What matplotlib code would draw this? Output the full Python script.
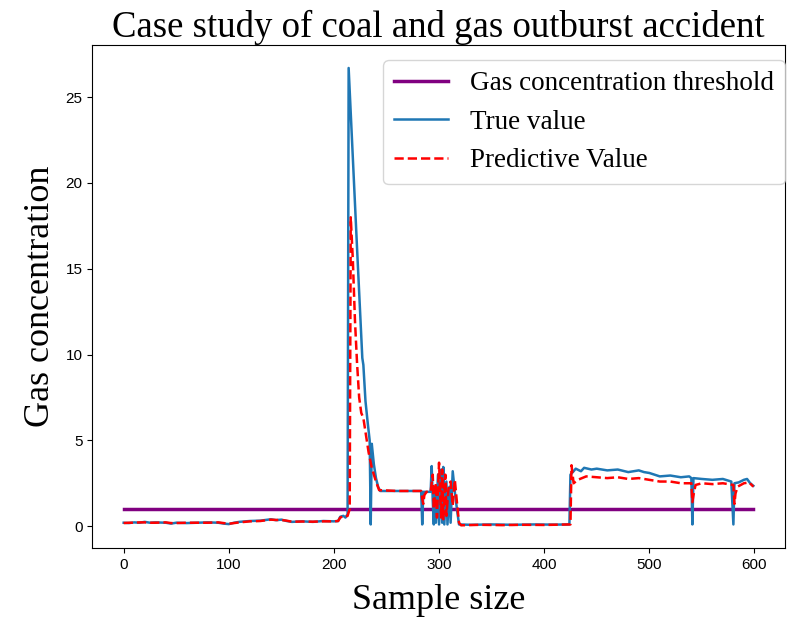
import numpy as np
import matplotlib.pyplot as plt

# sample index / gas concentration
true_x = [0, 5, 10, 15, 20, 25, 30, 40, 45, 50, 60, 70, 80, 90, 95, 100, 105, 110, 120, 130,
          140, 145, 150, 155, 160, 170, 180, 190, 200, 204, 206, 209, 211, 213, 214, 222, 227, 228,
          230, 232, 234, 235, 236, 238, 240, 242, 244, 260, 283, 284, 285, 292, 293, 294, 295, 296,
          297, 299, 300, 302, 303, 304, 305, 307, 308, 310, 311, 313, 315, 317, 319, 330, 350, 370,
          390, 410, 424, 425, 428, 430, 435, 438, 445, 450, 460, 470, 480, 490, 495, 500, 510, 520,
          530, 538, 540, 541, 542, 550, 560, 570, 578, 580, 581, 585, 590, 593, 596, 599]
true_y = [0.2, 0.18, 0.22, 0.2, 0.25, 0.2, 0.22, 0.2, 0.15, 0.2, 0.18, 0.2, 0.22, 0.2, 0.15, 0.12,
          0.2, 0.25, 0.3, 0.32, 0.4, 0.35, 0.38, 0.3, 0.25, 0.28, 0.25, 0.3, 0.28, 0.3, 0.55, 0.6,
          0.5, 0.7, 26.7, 16.2, 9.8, 9.4, 7.3, 6.1, 5.0, 0.1, 4.8, 3.6, 2.8, 2.3, 2.05, 2.05, 2.05,
          0.1, 2.0, 2.0, 3.5, 1.5, 0.1, 2.2, 0.2, 3.0, 0.1, 3.3, 0.2, 3.45, 0.1, 2.6, 0.1, 2.3, 0.2,
          3.2, 2.0, 1.0, 0.1, 0.08, 0.1, 0.08, 0.1, 0.09, 0.1, 3.0, 3.2, 3.35, 3.2, 3.4, 3.3, 3.35,
          3.25, 3.3, 3.15, 3.25, 3.15, 3.1, 2.9, 2.95, 2.85, 2.9, 2.8, 0.1, 2.8, 2.75, 2.7, 2.75,
          2.6, 0.1, 2.5, 2.55, 2.7, 2.75, 2.5, 2.35]

pred_x = [0, 5, 10, 15, 20, 25, 30, 40, 45, 50, 60, 70, 80, 90, 95, 100, 105, 110, 120, 130,
          140, 145, 150, 155, 160, 170, 180, 190, 200, 204, 206, 209, 211, 213, 215, 216, 218, 220,
          222, 224, 226, 228, 230, 233, 236, 238, 240, 243, 260, 283, 284, 285, 286, 288, 292, 294,
          295, 297, 298, 300, 301, 302, 303, 304, 306, 307, 309, 311, 313, 315, 317, 319, 321, 340,
          360, 380, 400, 424, 425, 426, 428, 432, 440, 450, 460, 470, 480, 490, 500, 510, 520, 530,
          540, 541, 542, 544, 550, 560, 570, 580, 581, 582, 584, 590, 595, 599]
pred_y = [0.18, 0.2, 0.2, 0.22, 0.22, 0.2, 0.2, 0.22, 0.18, 0.18, 0.2, 0.2, 0.2, 0.22, 0.18, 0.14,
          0.18, 0.22, 0.28, 0.3, 0.38, 0.36, 0.36, 0.32, 0.26, 0.27, 0.26, 0.28, 0.28, 0.3, 0.5, 0.58,
          0.55, 0.6, 1.0, 18.0, 15.5, 12.0, 9.5, 7.5, 6.6, 6.3, 5.5, 4.3, 3.4, 3.0, 2.6, 2.1, 2.05,
          2.05, 1.6, 1.3, 1.8, 2.0, 2.0, 3.0, 1.0, 2.5, 0.5, 3.7, 2.0, 0.5, 3.3, 0.4, 3.0, 0.6, 2.2,
          2.6, 1.2, 2.7, 1.4, 0.2, 0.05, 0.08, 0.06, 0.08, 0.07, 0.1, 0.1, 3.55, 2.5, 2.7, 2.9, 2.85,
          2.8, 2.85, 2.75, 2.8, 2.7, 2.6, 2.6, 2.5, 2.5, 1.4, 1.8, 2.4, 2.5, 2.45, 2.5, 2.4, 1.3,
          1.9, 2.3, 2.5, 2.55, 2.3]

threshold = 1.0

fig, ax = plt.subplots(figsize=(7.88, 6.18), dpi=100)
fig.subplots_adjust(left=0.117, right=0.996, bottom=0.113, top=0.927)

ax.plot([0, 599], [threshold, threshold], color='purple', linewidth=2.5,
        label='Gas concentration threshold')
ax.plot(true_x, true_y, color='#1f77b4', linewidth=1.8, label='True value')
ax.plot(pred_x, pred_y, color='red', linestyle='--', linewidth=1.8, label='Predictive Value')

ax.set_title('Case study of coal and gas outburst accident', fontsize=26.5,
             family='Liberation Serif', pad=4)
ax.set_xlabel('Sample size', fontsize=26, family='Liberation Serif', labelpad=9)
ax.set_ylabel('Gas concentration', fontsize=26, family='Liberation Serif', labelpad=6)
ax.set_xticks([0, 100, 200, 300, 400, 500, 600])
ax.set_yticks([0, 5, 10, 15, 20, 25])
for lab in ax.get_xticklabels() + ax.get_yticklabels():
    lab.set_family('Liberation Sans')
    lab.set_fontsize(11)

ax.legend(loc='upper right', bbox_to_anchor=(1.0, 0.97), borderaxespad=0.0,
          prop={'family': 'Liberation Serif', 'size': 19.5})

plt.savefig('out.png')
